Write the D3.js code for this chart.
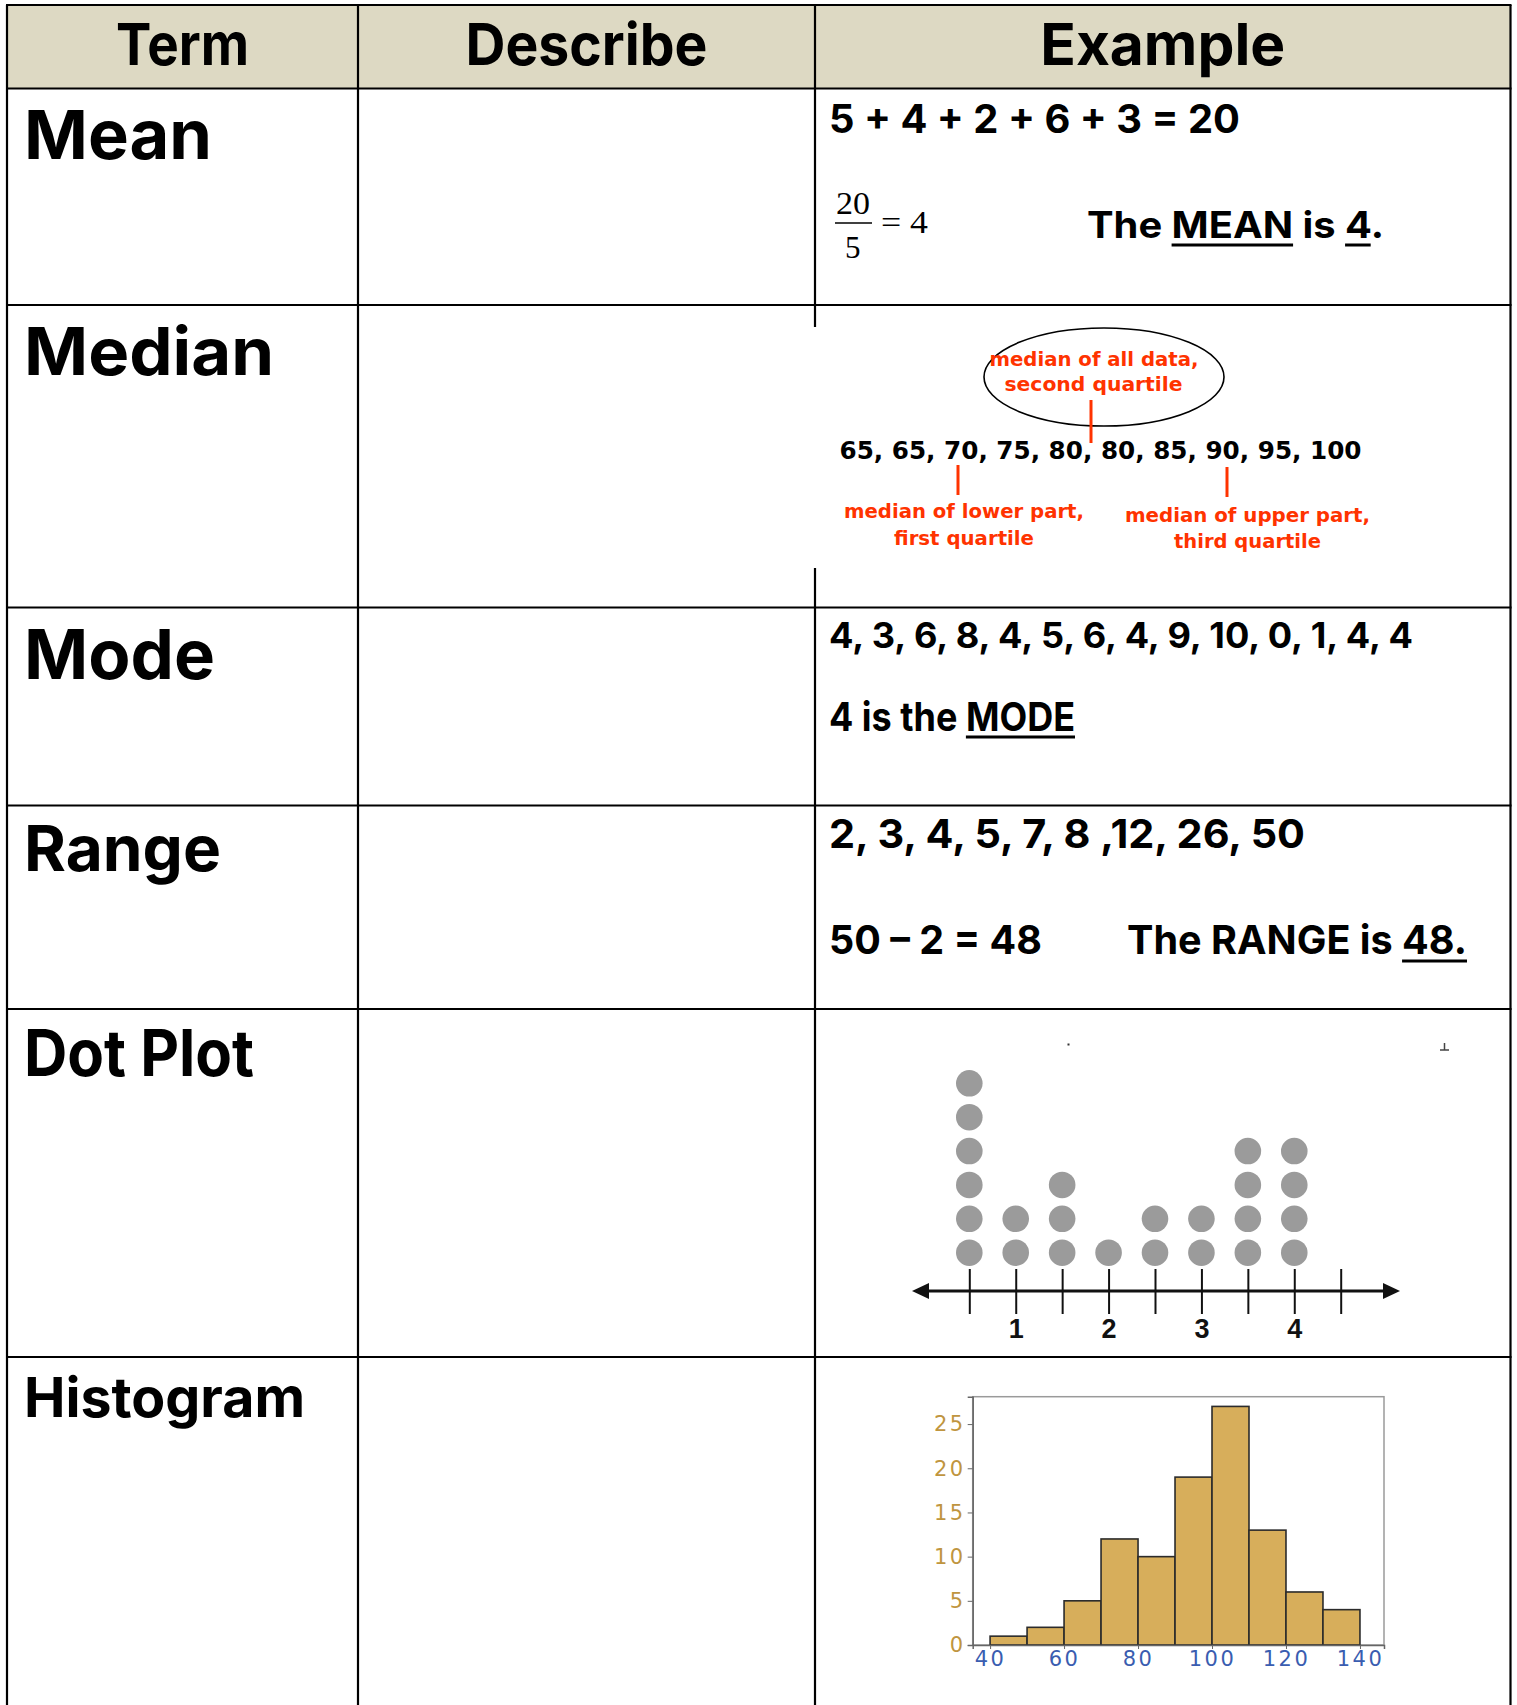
<!DOCTYPE html>
<html><head><meta charset="utf-8">
<script src="https://cdn.jsdelivr.net/npm/d3@7"></script>
<style>html,body{margin:0;padding:0;background:#fff;} svg{display:block;}</style>
</head><body><svg id="c" width="1517" height="1705"></svg>
<script>
// ---------- data ----------
const headers = ["Term", "Describe", "Example"];
const terms = ["Mean", "Median", "Mode", "Range", "Dot Plot", "Histogram"];
const meanValues = [5, 4, 2, 6, 3];
const medianData = [65, 65, 70, 75, 80, 80, 85, 90, 95, 100];
const medianNotes = ["median of all data,", "second quartile", "median of lower part,", "first quartile", "median of upper part,", "third quartile"];
const modeData = [4, 3, 6, 8, 4, 5, 6, 4, 9, 10, 0, 1, 4, 4];
const modeValue = 4;
const rangeData = [2, 3, 4, 5, 7, 8, 12, 26, 50];
const dotValues = [0.5, 1, 1.5, 2, 2.5, 3, 3.5, 4];
const dotCounts = [6, 2, 3, 1, 2, 2, 4, 4];
const dotTicks = [0.5, 1, 1.5, 2, 2.5, 3, 3.5, 4, 4.5];
const dotTickLabels = ["", "1", "", "2", "", "3", "", "4", ""];
const histBins = [40, 50, 60, 70, 80, 90, 100, 110, 120, 130];
const histCounts = [1, 2, 5, 12, 10, 19, 27, 13, 6, 4];
const histXTicks = [40, 60, 80, 100, 120, 140];
const histYTicks = [0, 5, 10, 15, 20, 25];

// ---------- setup ----------
const svg = d3.select("#c");
const SANS = "Inter, 'Open Sans', 'DejaVu Sans', sans-serif";
const VERD = "'DejaVu Sans', Verdana, sans-serif";
const SERIF = "'Liberation Serif', 'Times New Roman', serif";
const colX = [7, 358, 815, 1510.5];
const rowY = [5, 88.5, 305, 607.5, 805.5, 1009, 1357, 1705];

function T(s, x, y, size, len, o = {}) {
  const t = svg.append("text").attr("x", x).attr("y", y)
    .attr("font-size", size).attr("font-family", o.family || SANS)
    .attr("font-weight", o.weight == null ? 700 : o.weight)
    .attr("fill", o.fill || "#000").text(s);
  if (len) t.attr("textLength", len).attr("lengthAdjust", "spacingAndGlyphs");
  return t;
}
function underline(t, a, b, y, w = 3) {
  const n = t.node();
  const e0 = n.getExtentOfChar(a), e1 = n.getExtentOfChar(b - 1);
  svg.append("line").attr("x1", e0.x).attr("x2", e1.x + e1.width)
    .attr("y1", y).attr("y2", y).attr("stroke", "#000").attr("stroke-width", w);
}

// header background
svg.append("rect").attr("x", colX[0]).attr("y", rowY[0])
  .attr("width", colX[3] - colX[0]).attr("height", rowY[1] - rowY[0]).attr("fill", "#ddd9c3");

// grid lines
const grid = svg.append("g").attr("stroke", "#000").attr("stroke-width", 2.2);
rowY.slice(0, 7).forEach(y => grid.append("line").attr("x1", colX[0] - 1).attr("x2", colX[3] + 1).attr("y1", y).attr("y2", y));
colX.forEach(x => grid.append("line").attr("x1", x).attr("x2", x).attr("y1", rowY[0]).attr("y2", rowY[7]));
// the median picture hides part of the column line
svg.append("rect").attr("x", 813).attr("y", 327).attr("width", 5).attr("height", 241).attr("fill", "#fff");

// header texts
const headLen = [133, 242, 245];
headers.forEach((h, i) => {
  const cx = (colX[i] + colX[i + 1]) / 2;
  T(h, cx - headLen[i] / 2, 65, 58, headLen[i]);
});

// term labels
const termBase = [159.3, 375.3, 679, 871, 1076, 1417];
const termSize = [68, 66, 69, 63, 64.5, 55];
const termLen = [188, 250, 191, 197, 230, 281];
terms.forEach((s, i) => T(s, 24, termBase[i], termSize[i], termLen[i]));

// ---------- Mean ----------
T(meanValues.join(" + ") + " = " + d3.sum(meanValues), 829, 133.3, 39, 411);
T(String(d3.sum(meanValues)), 836, 214, 31, 34, { family: SERIF, weight: 400 });
svg.append("line").attr("x1", 835).attr("x2", 872).attr("y1", 223).attr("y2", 223).attr("stroke", "#000").attr("stroke-width", 1.3);
T(String(meanValues.length), 845, 258, 31, null, { family: SERIF, weight: 400 });
T("= " + d3.mean(meanValues), 881, 233, 31, 47, { family: SERIF, weight: 400 });
const meanT = T("The MEAN is " + d3.mean(meanValues) + ".", 1087, 238, 37, 297);
underline(meanT, 4, 8, 245);
underline(meanT, 12, 13, 245);

// ---------- Median ----------
const RED = "#ff3300";
svg.append("ellipse").attr("cx", 1104).attr("cy", 377).attr("rx", 120).attr("ry", 49)
  .attr("fill", "none").attr("stroke", "#000").attr("stroke-width", 1.6);
T(medianNotes[0], 989.5, 365.7, 20, 209, { family: VERD, fill: RED });
T(medianNotes[1], 1004.5, 391, 20, 178, { family: VERD, fill: RED });
T(medianData.join(", "), 839.5, 459.3, 25, 522, { family: VERD });
const redLines = [[1091, 400, 443], [958, 465, 495], [1227, 467, 497]];
redLines.forEach(([x, y1, y2]) => svg.append("line").attr("x1", x).attr("x2", x).attr("y1", y1).attr("y2", y2).attr("stroke", RED).attr("stroke-width", 3));
T(medianNotes[2], 844, 518.3, 20, 240, { family: VERD, fill: RED });
T(medianNotes[3], 894, 545, 20, 140, { family: VERD, fill: RED });
T(medianNotes[4], 1125, 521.7, 20, 245, { family: VERD, fill: RED });
T(medianNotes[5], 1174, 548.3, 20, 147, { family: VERD, fill: RED });

// ---------- Mode ----------
T(modeData.join(", "), 829, 647.5, 35, 584);
const modeT = T(modeValue + " is the MODE", 829, 731, 40, 246);
underline(modeT, 9, 13, 737);

// ---------- Range ----------
T(rangeData.slice(0, 6).join(", ") + " ," + rangeData.slice(6).join(", "), 829, 848.3, 40, 476);
const rg = d3.max(rangeData) - d3.min(rangeData);
T(d3.max(rangeData) + " \u2013 " + d3.min(rangeData) + " = " + rg, 829, 954, 40, 213);
const rangeT = T("The RANGE is " + rg + ".", 1127, 954, 40, 340);
underline(rangeT, 13, 16, 961);

// ---------- Dot plot ----------
const xDot = d3.scaleLinear().domain([0.5, 4.5]).range([969.3, 1340.7]);
const yDot = d3.scaleLinear().domain([0, 5]).range([1252.7, 1083.3]);
const axY = 1291;
svg.append("line").attr("x1", 922).attr("x2", 1390).attr("y1", axY).attr("y2", axY).attr("stroke", "#111").attr("stroke-width", 3);
svg.append("path").attr("d", `M912,${axY} L929,${axY - 8} L929,${axY + 8} Z`).attr("fill", "#111");
svg.append("path").attr("d", `M1400,${axY} L1383,${axY - 8} L1383,${axY + 8} Z`).attr("fill", "#111");
const dotAxis = svg.append("g").attr("transform", "translate(0,1269)")
  .call(d3.axisBottom(xDot).tickValues(dotTicks).tickSize(45).tickPadding(5)
    .tickFormat((d, i) => dotTickLabels[i]));
dotAxis.select(".domain").remove();
dotAxis.selectAll(".tick line").attr("stroke", "#111").attr("stroke-width", 2);
dotAxis.selectAll(".tick text").attr("font-size", 27).attr("font-weight", 700)
  .attr("font-family", "'Liberation Sans', Arial, sans-serif").attr("fill", "#111");
const dots = [];
dotValues.forEach((v, i) => d3.range(dotCounts[i]).forEach(k => dots.push({ v, k })));
svg.append("g").selectAll("circle").data(dots).join("circle")
  .attr("cx", d => xDot(d.v)).attr("cy", d => yDot(d.k)).attr("r", 13.3).attr("fill", "#9b9b9b");
// small stray marks in the picture
svg.append("rect").attr("x", 1067.5).attr("y", 1043.5).attr("width", 2).attr("height", 2).attr("fill", "#333");
svg.append("path").attr("d", "M1444.5,1043 L1444.5,1050 M1440,1050 L1449,1050").attr("stroke", "#444").attr("stroke-width", 1.5);

// ---------- Histogram ----------
const xH = d3.scaleLinear().domain([35.3, 146.5]).range([972.7, 1384]);
const yH = d3.scaleLinear().domain([0, 28.1]).range([1645, 1396.7]);
svg.append("rect").attr("x", 972.7).attr("y", 1396.7).attr("width", 1384 - 972.7).attr("height", 1645 - 1396.7)
  .attr("fill", "none").attr("stroke", "#9a9a9a").attr("stroke-width", 1.5);
svg.append("g").selectAll("rect").data(histBins).join("rect")
  .attr("x", d => xH(d)).attr("width", d => xH(d + 10) - xH(d))
  .attr("y", (d, i) => yH(histCounts[i])).attr("height", (d, i) => yH(0) - yH(histCounts[i]))
  .attr("fill", "#d7ae5b").attr("stroke", "#2b2b2b").attr("stroke-width", 1.6);
const hy = svg.append("g").attr("transform", "translate(972.7,0)")
  .call(d3.axisLeft(yH).tickValues(histYTicks).tickSize(5).tickPadding(2));
hy.select(".domain").attr("stroke", "#666").attr("stroke-width", 1.5);
hy.selectAll(".tick line").attr("stroke", "#666");
hy.selectAll(".tick text").attr("font-size", 21).attr("font-family", VERD).attr("fill", "#bf9540").attr("letter-spacing", 2.5);
const hx = svg.append("g").attr("transform", "translate(0,1645)")
  .call(d3.axisBottom(xH).tickValues(histXTicks).tickSize(4).tickPadding(2));
hx.select(".domain").attr("stroke", "#666").attr("stroke-width", 1.5);
hx.selectAll(".tick line").attr("stroke", "#666");
hx.selectAll(".tick text").attr("font-size", 21).attr("font-family", VERD).attr("fill", "#3a5db0").attr("letter-spacing", 2.5);
</script>
</body></html>
